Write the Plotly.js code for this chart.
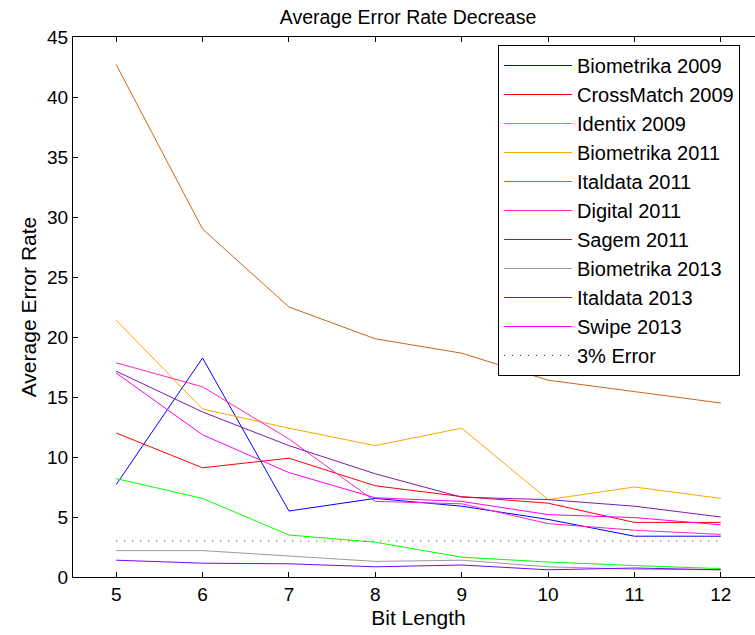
<!DOCTYPE html>
<html>
<head>
<meta charset="utf-8">
<script src="https://cdn.plot.ly/plotly-3.0.1.min.js"></script>
<style>
html, body { margin: 0; padding: 0; overflow: hidden; background: #fff; }
#chart { width: 790px; height: 635px; }
</style>
</head>
<body>
<div id="chart"></div>
<script>
const bitLength = [5, 6, 7, 8, 9, 10, 11, 12];

const biometrika2009 = [7.7, 18.25, 5.5, 6.55, 5.9, 4.8, 3.4, 3.4];
const crossmatch2009 = [12.0, 9.1, 9.9, 7.6, 6.7, 6.15, 4.55, 4.55];
const identix2009    = [8.2, 6.55, 3.5, 2.9, 1.65, 1.25, 0.95, 0.7];
const biometrika2011 = [21.4, 14.0, 12.4, 10.95, 12.4, 6.45, 7.5, 6.55];
const italdata2011   = [42.7, 29.0, 22.5, 19.85, 18.65, 16.4, 15.45, 14.5];
const digital2011    = [17.85, 15.85, 11.5, 6.3, 6.1, 4.45, 3.9, 3.55];
const sagem2011      = [17.15, 13.75, 10.95, 8.6, 6.65, 6.45, 5.9, 5.0];
const biometrika2013 = [2.2, 2.2, 1.75, 1.3, 1.4, 0.85, 0.65, 0.6];
const italdata2013   = [1.4, 1.15, 1.1, 0.85, 1.0, 0.6, 0.75, 0.6];
const swipe2013      = [17.0, 11.85, 8.7, 6.6, 6.3, 5.2, 4.95, 4.35];
const errorLine      = [3, 3, 3, 3, 3, 3, 3, 3];

const seriesNames = ["Biometrika 2009", "CrossMatch 2009", "Identix 2009", "Biometrika 2011",
  "Italdata 2011", "Digital 2011", "Sagem 2011", "Biometrika 2013", "Italdata 2013", "Swipe 2013"];
const seriesValues = [biometrika2009, crossmatch2009, identix2009, biometrika2011,
  italdata2011, digital2011, sagem2011, biometrika2013, italdata2013, swipe2013];
const seriesColors = ["#0000FF", "#FF0000", "#00FF00", "#FFA500", "#CC6619",
  "#FF22BB", "#7D1CA8", "#999999", "#8000FF", "#FF00FF"];

const xTicks = [5, 6, 7, 8, 9, 10, 11, 12];
const yTicks = [0, 5, 10, 15, 20, 25, 30, 35, 40, 45];

const FONT = "Liberation Sans, Arial, Helvetica, sans-serif";

const traces = seriesNames.map((name, i) => ({
  x: bitLength, y: seriesValues[i], name: name, type: "scatter", mode: "lines",
  line: { color: seriesColors[i], width: 1 }, hoverinfo: "skip"
}));
traces.push({
  x: bitLength, y: errorLine, name: "3% Error", type: "scatter", mode: "lines",
  line: { color: "#333333", width: 1, dash: "1px,7px" }, hoverinfo: "skip"
});

const layout = {
  width: 790, height: 635,
  margin: { l: 73, r: 26, t: 37, b: 58 },
  paper_bgcolor: "#ffffff", plot_bgcolor: "#ffffff",
  font: { family: FONT, size: 19, color: "#000" },
  title: { text: "Average Error Rate Decrease", font: { family: FONT, size: 19.5, color: "#000" },
    x: (408) / 790, xanchor: "center", y: 1 - 17 / 635, yanchor: "middle" },
  showlegend: true,
  legend: {
    x: (498 - 73) / 691, y: (577 - 45) / 540, xanchor: "left", yanchor: "top",
    bgcolor: "#ffffff", bordercolor: "#000", borderwidth: 1,
    font: { family: FONT, size: 20, color: "#000" },
    itemwidth: 68, tracegroupgap: 0
  },
  xaxis: {
    range: [4.5, 12.5], tickvals: xTicks, ticktext: xTicks.map(String),
    ticks: "inside", ticklen: 5, tickcolor: "#000", tickwidth: 1,
    showline: true, linecolor: "#000", linewidth: 1, mirror: "ticks",
    showgrid: false, zeroline: false,
    tickfont: { family: FONT, size: 19, color: "#000" },
    title: { text: "Bit Length", font: { family: FONT, size: 21, color: "#000" }, standoff: 6 }
  },
  yaxis: {
    range: [0, 45], tickvals: yTicks, ticktext: yTicks.map(String),
    ticks: "inside", ticklen: 5, tickcolor: "#000", tickwidth: 1,
    showline: true, linecolor: "#000", linewidth: 1, mirror: "ticks",
    showgrid: false, zeroline: false,
    tickfont: { family: FONT, size: 19, color: "#000" },
    title: { text: "Average Error Rate", font: { family: FONT, size: 21, color: "#000" }, standoff: 4 }
  }
};

Plotly.newPlot("chart", traces, layout, { displayModeBar: false, staticPlot: true });
</script>
</body>
</html>
